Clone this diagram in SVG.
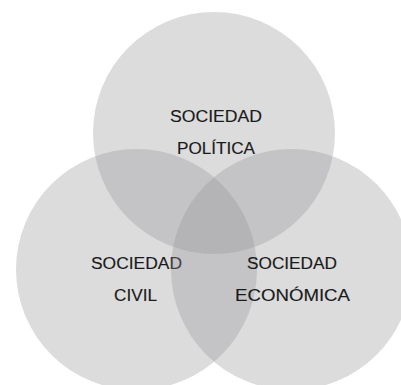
<svg xmlns="http://www.w3.org/2000/svg" width="401" height="385" viewBox="0 0 401 385">
<style>
.c{fill:#969698;fill-opacity:0.33;}
.t{font-family:"Liberation Sans",Arial,sans-serif;font-size:16px;fill:#1a1a1a;stroke:#1a1a1a;stroke-width:0.15;text-anchor:middle;}
</style>
<rect width="401" height="385" fill="#ffffff"/>
<g id="politica">
<circle class="c" cx="214" cy="133" r="121"/>
<text class="t" x="216" y="121.5" textLength="92" lengthAdjust="spacingAndGlyphs">SOCIEDAD</text>
<text class="t" x="216" y="153.5" textLength="78" lengthAdjust="spacingAndGlyphs">POLÍTICA</text>
</g>
<g id="civil">
<circle class="c" cx="136.5" cy="269.5" r="120.5"/>
<text class="t" x="136.5" y="268.5" textLength="91" lengthAdjust="spacingAndGlyphs">SOCIEDAD</text>
<text class="t" x="135.5" y="300.5" textLength="43" lengthAdjust="spacingAndGlyphs">CIVIL</text>
</g>
<g id="economica">
<circle class="c" cx="291.5" cy="269.5" r="120.5"/>
<text class="t" x="292" y="268.5" textLength="90" lengthAdjust="spacingAndGlyphs">SOCIEDAD</text>
<text class="t" x="292.5" y="300.5" textLength="115" lengthAdjust="spacingAndGlyphs">ECONÓMICA</text>
</g>
<g id="connectors"></g>
</svg>
